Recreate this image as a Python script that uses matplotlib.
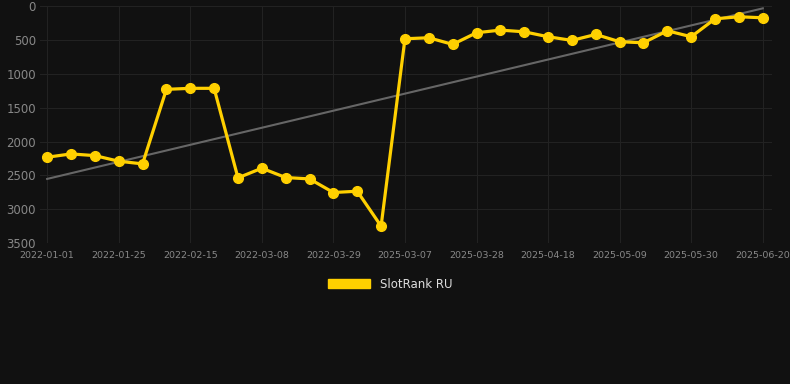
import matplotlib
matplotlib.use("Agg")
import matplotlib.pyplot as plt
from matplotlib.patches import Patch
import numpy as np

# weekly snapshots, 15 from 2022 and 16 from 2025
dates = ["2022-01-01", "2022-01-09", "2022-01-17", "2022-01-25", "2022-02-01",
         "2022-02-08", "2022-02-15", "2022-02-22", "2022-03-01", "2022-03-08",
         "2022-03-15", "2022-03-22", "2022-03-29", "2022-04-05", "2022-04-12",
         "2025-03-07", "2025-03-14", "2025-03-21", "2025-03-28", "2025-04-04",
         "2025-04-11", "2025-04-18", "2025-04-25", "2025-05-02", "2025-05-09",
         "2025-05-16", "2025-05-23", "2025-05-30", "2025-06-06", "2025-06-13",
         "2025-06-20"]
rank = [2232, 2183, 2208, 2291, 2330, 1229, 1214, 1214, 2537, 2394,
        2532, 2552, 2753, 2734, 3250, 482, 467, 565, 393, 354,
        379, 452, 506, 418, 526, 541, 364, 452, 187, 157, 172]
series_name = "SlotRank RU"

bg = "#111111"
gold = "#FFD000"

fig = plt.figure(figsize=(7.9, 3.84), dpi=100, facecolor=bg)
ax = fig.add_axes([0.0506, 0.367, 0.927, 0.617], facecolor=bg)

x = np.arange(len(rank))
# linear trend over the series
k, b = np.polyfit(x, rank, 1)
ax.plot(x, k * x + b, color="#666666", lw=1.5, zorder=2)
ax.plot(x, rank, color=gold, lw=2.3, marker="o", ms=7, zorder=3)

ax.set_ylim(3500, 0)
ax.set_xlim(-0.3, 30.4)
ax.set_yticks(range(0, 3501, 500))
tick_pos = x[::3]
ax.set_xticks(tick_pos)
ax.set_xticklabels([dates[i] for i in tick_pos])

ax.grid(True, color="#222222", lw=0.8)
ax.set_axisbelow(True)
for s in ax.spines.values():
    s.set_visible(False)
ax.tick_params(axis="y", colors="#888888", labelsize=8.5, length=0, pad=3)
ax.tick_params(axis="x", colors="#888888", labelsize=6.8, length=0, pad=6)

fig.legend(handles=[Patch(color=gold, label=series_name)], loc="center",
           bbox_to_anchor=(390 / 790, 1 - 284 / 384), frameon=False,
           handlelength=3.6, handleheight=0.9, fontsize=8.5, labelcolor="#dddddd")

fig.savefig("out.png", facecolor=bg)
